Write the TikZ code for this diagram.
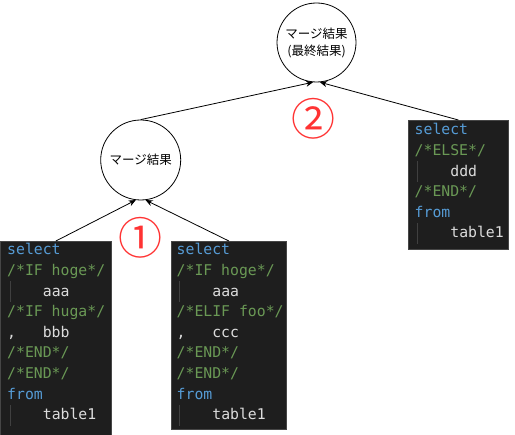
\documentclass[tikz,border=0pt]{standalone}
\usepackage{fontspec}
\setmonofont{DejaVu Sans Mono}
\newfontfamily\jp{Noto Sans CJK JP}
\usetikzlibrary{arrows.meta}
\definecolor{codebg}{HTML}{1E1E1E}
\definecolor{codeedge}{HTML}{464646}
\definecolor{kw}{HTML}{569CD6}
\definecolor{cm}{HTML}{6A9955}
\definecolor{tx}{HTML}{DCDCDC}
\definecolor{guide}{HTML}{404040}
\definecolor{markred}{HTML}{FF3333}
\tikzset{
 codebox/.style={fill=codebg, draw=codeedge, line width=0.8pt, inner sep=0, anchor=north west},
 cl/.style={anchor=base west, inner sep=0, font=\fontsize{14.8}{16}\ttfamily, text=tx},
 merge/.style={circle, draw, line width=0.8pt, minimum size=80pt, inner sep=0, font=\jp\fontsize{12.5}{17}\selectfont, align=center},
 arr/.style={-{Stealth[length=7pt,width=6pt]}, line width=0.8pt},
 num/.style={text=markred, font=\jp\fontsize{44}{44}\selectfont, inner sep=0},
 gl/.style={draw=guide, line width=0.8pt}
}
\begin{document}
\begin{tikzpicture}[x=1pt,y=-1pt]
\useasboundingbox (0,0) rectangle (515,435);
\fill[white] (0,0) rectangle (515,435);

% code boxes
\node[codebox, minimum width=111pt, minimum height=194pt] (b1) at (0,241) {};
\node[codebox, minimum width=115pt, minimum height=188pt] (b2) at (171,241) {};
\node[codebox, minimum width=100pt, minimum height=129pt] (b3) at (408,120) {};

% left box text
\node[cl] (a1) at (7,255) {\textcolor{kw}{select}};
\node[cl] (a2) at (7,275.6) {\textcolor{cm}{/*IF hoge*/}};
\node[cl] (a3) at (7,296.2) {\hphantom{0000}aaa};
\node[cl] (a4) at (7,316.8) {\textcolor{cm}{/*IF huga*/}};
\node[cl] (a5) at (7,337.4) {,\hphantom{000}bbb};
\node[cl] (a6) at (7,358) {\textcolor{cm}{/*END*/}};
\node[cl] (a7) at (7,378.6) {\textcolor{cm}{/*END*/}};
\node[cl] (a8) at (7,399.2) {\textcolor{kw}{from}};
\node[cl] (a9) at (7,419.8) {\hphantom{0000}table1};
\draw[gl] (10,281.4) -- (10,302);
\draw[gl] (10,405) -- (10,425.6);

% middle box text
\node[cl] (m1) at (176.5,255) {\textcolor{kw}{select}};
\node[cl] (m2) at (176.5,275.6) {\textcolor{cm}{/*IF hoge*/}};
\node[cl] (m3) at (176.5,296.2) {\hphantom{0000}aaa};
\node[cl] (m4) at (176.5,316.8) {\textcolor{cm}{/*ELIF foo*/}};
\node[cl] (m5) at (176.5,337.4) {,\hphantom{000}ccc};
\node[cl] (m6) at (176.5,358) {\textcolor{cm}{/*END*/}};
\node[cl] (m7) at (176.5,378.6) {\textcolor{cm}{/*END*/}};
\node[cl] (m8) at (176.5,399.2) {\textcolor{kw}{from}};
\node[cl] (m9) at (176.5,419.8) {\hphantom{0000}table1};
\draw[gl] (179.5,281.4) -- (179.5,302);
\draw[gl] (179.5,405) -- (179.5,425.6);

% right box text
\node[cl] (r1) at (414.5,135) {\textcolor{kw}{select}};
\node[cl] (r2) at (414.5,155.6) {\textcolor{cm}{/*ELSE*/}};
\node[cl] (r3) at (414.5,176.2) {\hphantom{0000}ddd};
\node[cl] (r4) at (414.5,196.8) {\textcolor{cm}{/*END*/}};
\node[cl] (r5) at (414.5,217.4) {\textcolor{kw}{from}};
\node[cl] (r6) at (414.5,238) {\hphantom{0000}table1};
\draw[gl] (417.5,161.4) -- (417.5,182);
\draw[gl] (417.5,223.2) -- (417.5,243.8);

% merge circles
\node[merge] (c1) at (140.7,160) {マージ結果};
\node[merge, minimum size=79pt] (c2) at (316.5,42.5) {マージ結果\\(最終結果)};

% step numbers
\node[num] (n1) at (140.5,238) {①};
\node[num] (n2) at (313,118.5) {②};

% connectors
\draw[arr] (b1.north) -- (c1.263);
\draw[arr] (b2.north) -- (c1.277);
\draw[arr] (c1.north) -- (c2.265);
\draw[arr] (b3.north) -- (c2.275);
\end{tikzpicture}
\end{document}
